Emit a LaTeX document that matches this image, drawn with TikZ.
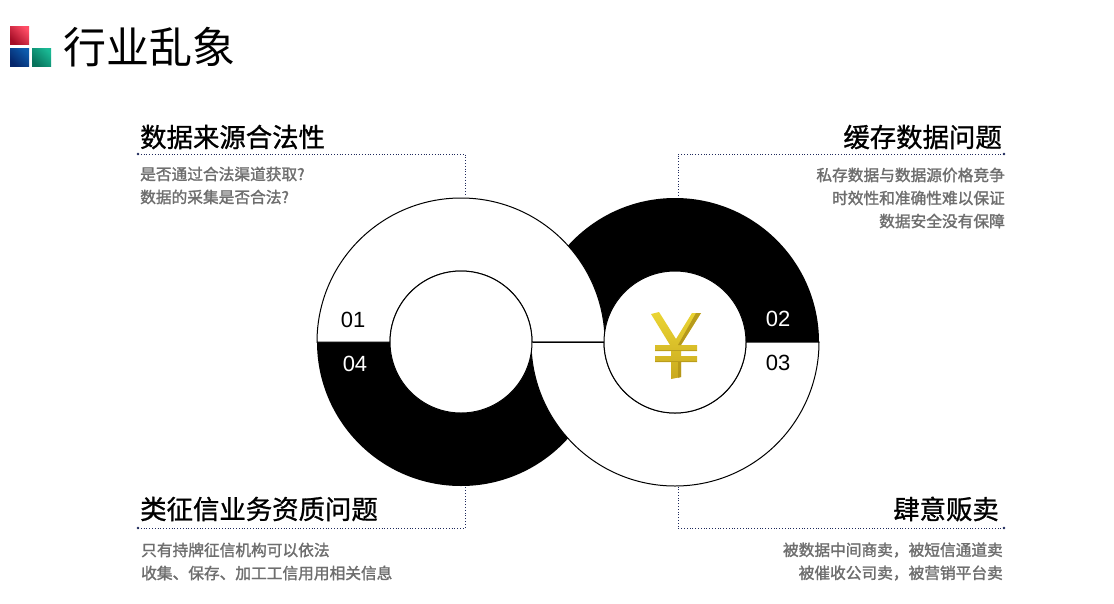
\documentclass[tikz,border=0pt]{standalone}
\usepackage{fontspec}
\setmainfont{Noto Sans CJK SC}[BoldFont={Noto Sans CJK SC Bold}]
\newfontfamily\headf{Noto Sans CJK SC}[FakeBold=1.0]
\newfontfamily\bodyf{Noto Sans CJK SC}[FakeBold=1.6]
\newfontfamily\latinf{Liberation Sans}
\usetikzlibrary{calc}
\definecolor{leadc}{HTML}{1F2A5C}
\definecolor{bodyc}{HTML}{6E6E6E}
\definecolor{reda}{HTML}{FF4D66}
\definecolor{redb}{HTML}{A50D26}
\definecolor{bluea}{HTML}{0D5CAD}
\definecolor{blueb}{HTML}{05266B}
\definecolor{greena}{HTML}{1AB894}
\definecolor{greenb}{HTML}{08735C}
\definecolor{golda}{HTML}{EBD534}
\definecolor{goldb}{HTML}{C9A91E}
\definecolor{goldc}{HTML}{A88A14}
\tikzset{
  headl/.style={anchor=west,inner sep=0pt,font=\fontsize{26.4}{27}\headf,text=black},
  headr/.style={anchor=east,inner sep=0pt,font=\fontsize{26.4}{27}\headf,text=black},
  bodyl/.style={anchor=west,inner sep=0pt,font=\fontsize{15.7}{16}\bodyf,text=bodyc},
  bodyr/.style={anchor=east,inner sep=0pt,font=\fontsize{15.7}{16}\bodyf,text=bodyc},
  num/.style={inner sep=0pt,font=\fontsize{22}{22}\selectfont\latinf},
  leader/.style={draw=leadc,line width=0.8pt,dotted},
  ring/.style={draw=black,line width=1pt},
  endd/.style={circle,fill=leadc,inner sep=0pt,minimum size=2.6pt},
}
\begin{document}
\begin{tikzpicture}[x=1pt,y=-1pt]
\useasboundingbox[fill=white] (0,0) rectangle (1114,603);
% logo
\shade[top color=reda,bottom color=redb,shading angle=-45] (10,26) rectangle (29,44);
\shade[top color=bluea,bottom color=blueb,shading angle=-45] (10,48) rectangle (29,66);
\shade[top color=greena,bottom color=greenb,shading angle=-45] (32,48) rectangle (51,66);
\node[anchor=west,inner sep=0pt,font=\fontsize{43}{44}\selectfont] (title) at (63,47) {行业乱象};

% black half rings (the y axis points down, so arc directions are mirrored)
\fill[black] (317,342) arc[start angle=180,delta angle=-180,radius=144] -- (532,342) arc[start angle=0,delta angle=180,radius=71] -- cycle;
\fill[black] (531,342) arc[start angle=180,delta angle=180,radius=144] -- (746,342) arc[start angle=360,delta angle=-180,radius=71] -- cycle;
% white half rings
\filldraw[fill=white,ring] (317,342) arc[start angle=180,delta angle=180,radius=144] -- (532,342) arc[start angle=360,delta angle=-180,radius=71] -- cycle;
\filldraw[fill=white,ring] (531,342) arc[start angle=180,delta angle=-180,radius=144] -- (746,342) arc[start angle=0,delta angle=180,radius=71] -- cycle;
% inner circles
\node[circle,draw=black,fill=white,line width=1pt,minimum size=142pt,inner sep=0pt] (hubl) at (461,342) {};
\node[circle,draw=black,fill=white,line width=1pt,minimum size=142pt,inner sep=0pt] (hubr) at (675,342) {};
\draw[ring] (hubl.east) -- (hubr.west);

% numbers
\node[num,text=black] (n1) at (353,320) {01};
\node[num,text=white] (n4) at (355,364) {04};
\node[num,text=white] (n2) at (778,319) {02};
\node[num,text=black] (n3) at (778,363) {03};

% yen
\shade[top color=golda,bottom color=goldb]
  (651,314) -- (659,312) -- (676,339) -- (692,313) -- (701,313) -- (681,345) -- (697,345) -- (697,351) -- (681,351) -- (681,356) -- (697,356) -- (697,362) -- (681,362) -- (681,377) -- (671,379) -- (671,362) -- (655,362) -- (655,356) -- (671,356) -- (671,351) -- (655,351) -- (655,345) -- (670,345) -- cycle;
\fill[goldc,opacity=.75] (696,313) -- (701,313) -- (681,345) -- (678,345) -- cycle;
\fill[goldc,opacity=.55] (655,349.5) -- (697,349.5) -- (697,351) -- (655,351) -- cycle;
\fill[goldc,opacity=.55] (655,360.5) -- (697,360.5) -- (697,362) -- (655,362) -- cycle;
\fill[goldc,opacity=.6] (678,362) -- (681,362) -- (681,377) -- (678,378) -- cycle;

% leaders
\coordinate (tl1) at (138,154); \coordinate (tl2) at (465,154); \coordinate (tl3) at (465,196);
\coordinate (tr1) at (1004,154); \coordinate (tr2) at (678,154); \coordinate (tr3) at (678,196);
\coordinate (bl1) at (138,528); \coordinate (bl2) at (465,528); \coordinate (bl3) at (465,487);
\coordinate (br1) at (1004,528); \coordinate (br2) at (678,528); \coordinate (br3) at (678,487);
\draw[leader] (tl1) -- (tl2) -- (tl3);
\draw[leader] (tr1) -- (tr2) -- (tr3);
\draw[leader] (bl1) -- (bl2) -- (bl3);
\draw[leader] (br1) -- (br2) -- (br3);
\node[endd] at (tl1) {}; \node[endd] at (tr1) {}; \node[endd] at (bl1) {}; \node[endd] at (br1) {};

% texts
\node[headl] (h1) at (140,137) {数据来源合法性};
\node[bodyl] (b11) at (140,174) {是否通过合法渠道获取?};
\node[bodyl] (b12) at (140,197) {数据的采集是否合法?};

\node[headr] (h2) at (1002,137) {缓存数据问题};
\node[bodyr] (b21) at (1005,175) {私存数据与数据源价格竞争};
\node[bodyr] (b22) at (1005,198) {时效性和准确性难以保证};
\node[bodyr] (b23) at (1005,221) {数据安全没有保障};

\node[headl] (h4) at (140,509) {类征信业务资质问题};
\node[bodyl] (b41) at (141,550) {只有持牌征信机构可以依法};
\node[bodyl] (b42) at (141,573) {收集、保存、加工工信用用相关信息};

\node[headr] (h3) at (999,509) {肆意贩卖};
\node[bodyr] (b31) at (1003,550) {被数据中间商卖，被短信通道卖};
\node[bodyr] (b32) at (1003,573) {被催收公司卖，被营销平台卖};
\end{tikzpicture}
\end{document}
